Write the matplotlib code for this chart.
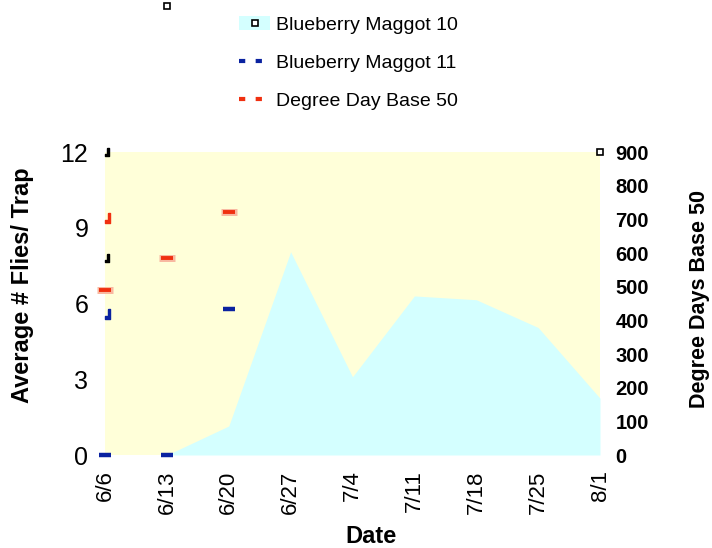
import matplotlib
matplotlib.use("Agg")
import matplotlib.pyplot as plt
from matplotlib.patches import Patch
from matplotlib.lines import Line2D

plt.rcParams['font.family'] = ['Liberation Sans', 'DejaVu Sans']

dates = ["6/6", "6/13", "6/20", "6/27", "7/4", "7/11", "7/18", "7/25", "8/1"]
bm10 = [0, 0, 1.15, 8.05, 3.1, 6.3, 6.15, 5.05, 2.25]

# Blueberry Maggot 11 points (index, flies/trap)
bm11_idx = [0, 1, 2]
bm11_val = [0, 0, 5.8]

# Degree Day Base 50 points (index, degree days)
dd_idx = [0, 1, 2]
dd_val = [490, 585, 722]

# stray marks drawn by the original at the left edge of the plot
edge_blue = [5.6]
edge_red = [705]
edge_black = [7.8, 12]

BG = "#FFFFD9"
CYAN = "#D4FFFF"
BLUE = "#0A22A0"
RED = "#F03010"

jmark = [(0.55, 1), (1, 1), (1, -1), (0, -1), (0, -0.45), (0.55, -0.45), (0.55, 1)]


def main():
    fig = plt.figure(figsize=(7.12, 5.48), dpi=100)
    ax = fig.add_axes([0.1475, 0.1697, 0.6952, 0.5529])
    ax2 = ax.twinx()
    ax.set_zorder(ax2.get_zorder() - 1)
    ax.set_facecolor(BG)
    ax2.patch.set_visible(False)

    x = list(range(len(dates)))
    ax.fill_between(x, 0, bm10, color=CYAN, lw=0)
    ax.set_xlim(0, 8)
    ax.set_ylim(0, 12)
    ax.set_yticks([0, 3, 6, 9, 12])
    ax.set_xticks(x)
    ax.set_xticklabels(dates, rotation=90, fontsize=16)
    ax.tick_params(axis='both', length=0)
    ax.tick_params(axis='y', labelsize=18, pad=12)
    ax.tick_params(axis='x', pad=11)
    for s in ax.spines.values():
        s.set_visible(False)

    ax2.set_ylim(0, 900)
    ax2.set_yticks(range(0, 1000, 100))
    ax2.tick_params(axis='y', length=0, labelsize=14.5, pad=11)
    for lbl in ax2.get_yticklabels():
        lbl.set_fontweight('bold')
    for s in ax2.spines.values():
        s.set_visible(False)

    # Blueberry Maggot 11
    ax.plot(bm11_idx, bm11_val, ls='none', marker='_', ms=8, mew=3.2,
            color=BLUE, clip_on=False)
    ax.plot([0] * len(edge_blue), edge_blue, ls='none', marker=jmark, ms=7,
            color=BLUE, clip_on=False)
    # Degree Day Base 50
    ax2.plot(dd_idx, dd_val, ls='none', marker='_', ms=11, mew=5,
             color="#F8B8A0", clip_on=False)
    ax2.plot(dd_idx, dd_val, ls='none', marker='_', ms=8, mew=2.8,
             color=RED, clip_on=False)
    ax2.plot([0] * len(edge_red), edge_red, ls='none', marker=jmark, ms=7,
             color=RED, clip_on=False)
    # black stray marks
    ax.plot([0] * len(edge_black), edge_black, ls='none', marker=jmark, ms=6,
            color='black', clip_on=False)
    ax.plot([8], [12], ls='none', marker='s', ms=4, mfc='white',
            mec='black', mew=1.2, clip_on=False)
    ax.plot([1], [17.8], ls='none', marker='s', ms=4, mfc='white',
            mec='black', mew=1.2, clip_on=False)

    ax.set_xlabel("Date", fontsize=17, fontweight='bold', labelpad=8)
    ax.xaxis.label.set_x(0.537)
    ax.set_ylabel("Average # Flies/ Trap", fontsize=17, fontweight='bold',
                  labelpad=19)
    ax.yaxis.label.set_y(0.56)
    ax2.set_ylabel("Degree Days Base 50", fontsize=15.5, fontweight='bold',
                   labelpad=29)
    ax2.yaxis.label.set_y(0.515)

    handles = [
        (Patch(facecolor=CYAN, edgecolor='none'),
         Line2D([], [], ls='none', marker='s', ms=4, mfc='white',
                mec='black', mew=1.2)),
        Line2D([], [], color=BLUE, lw=3, ls=(0, (1.5, 2.5))),
        Line2D([], [], color=RED, lw=3, ls=(0, (1.5, 2.5))),
    ]
    labels = ["Blueberry Maggot 10", "Blueberry Maggot 11", "Degree Day Base 50"]
    fig.legend(handles, labels, loc='upper left', bbox_to_anchor=(0.317, 0.995),
               frameon=False, fontsize=14, handlelength=1.6,
               handletextpad=0.3, labelspacing=1.05, borderaxespad=0.3)

    fig.savefig("out.png", dpi=100)


if __name__ == "__main__":
    main()
